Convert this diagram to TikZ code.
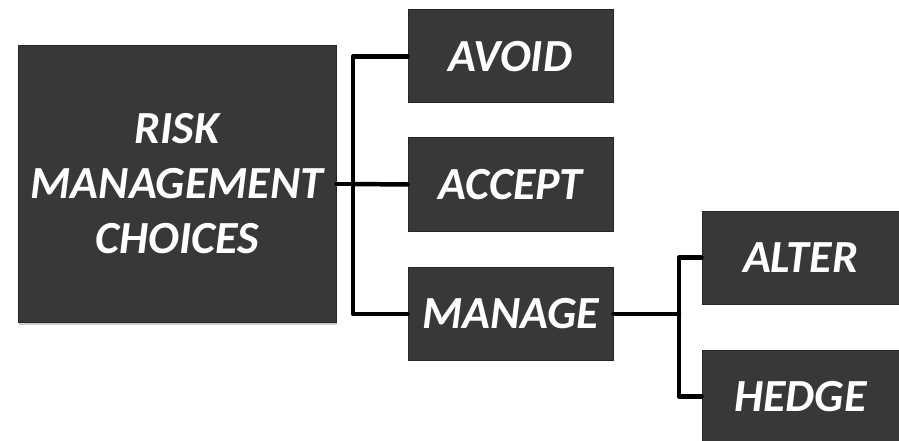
\documentclass[tikz,border=0pt]{standalone}
\usepackage{fontspec}
\setmainfont{Carlito}
\usetikzlibrary{positioning}

\begin{document}
\begin{tikzpicture}[x=1pt,y=-1pt,
    choice/.style={draw=black!85,line width=1pt,fill=black!78,text=white,
        font=\fontsize{46}{55}\selectfont\bfseries\itshape,
        align=center,inner sep=0pt,minimum width=205pt,minimum height=93pt},
    link/.style={line width=4.5pt,line cap=round,line join=round}]
    \useasboundingbox (0,0) rectangle (899,441);
    \fill[black!20] (19,47) rectangle (337,325);
    \node[choice,minimum width=318pt,minimum height=276pt] (main) at (177,184)
        {RISK\\MANAGEMENT\\CHOICES};
    \node[choice] (avoid) at (510.5,56.5) {AVOID};
    \node[choice] (accept) at (510.5,184.5) {ACCEPT};
    \node[choice] (manage) at (510.5,314) {MANAGE};
    \node[choice,minimum width=197pt] (alter) at (800.5,257.5) {ALTER};
    \node[choice,minimum width=197pt] (hedge) at (800.5,396.5) {HEDGE};
    \coordinate (split) at (353,184);
    \coordinate (subsplit) at (679,314);
    \draw[link] (main.east) -- (split);
    \draw[link] (avoid.west) -| (split) |- (manage.west);
    \draw[link] (accept.west) -- (split);
    \draw[link] (manage.east) -- (subsplit);
    \draw[link] (alter.west) -| (subsplit) |- (hedge.west);
\end{tikzpicture}
\end{document}
